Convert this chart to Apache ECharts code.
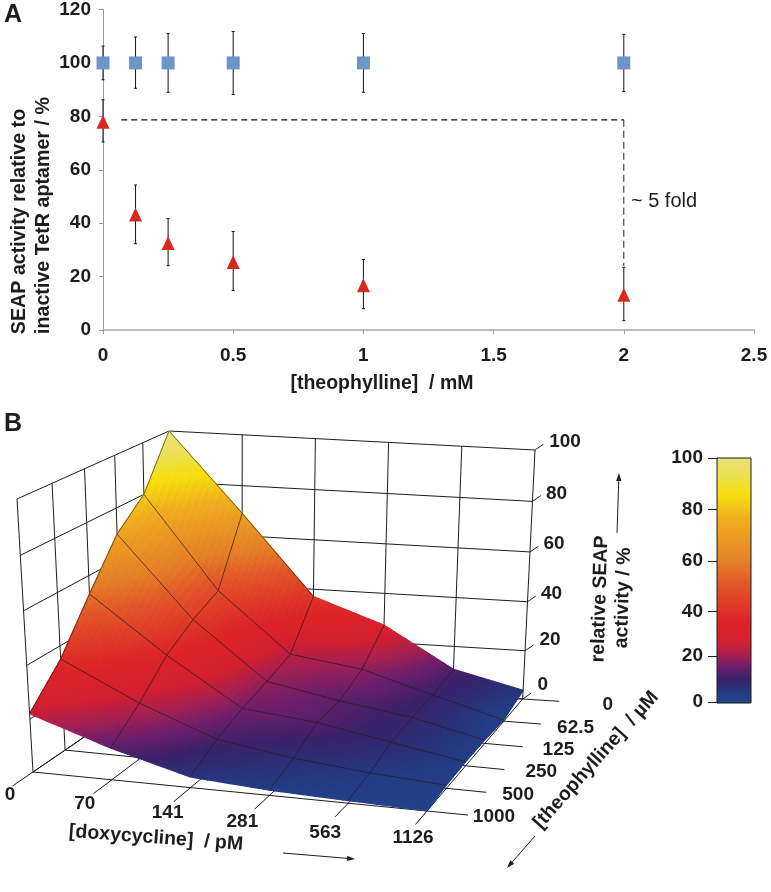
<!DOCTYPE html>
<html><head><meta charset="utf-8">
<style>html,body{margin:0;padding:0;background:#fff}#c{width:771px;height:892px}</style>
<script src="https://cdn.jsdelivr.net/npm/echarts@6/dist/echarts.min.js"></script>
</head><body><div id="c"></div>
<script>
// ---------- Panel A data ----------
const theoMM = [0, 0.125, 0.25, 0.5, 1, 2];
const activeMean = [100, 100, 100, 100, 100, 100];
const activeHigh = [106.3, 109.7, 111, 111.8, 111, 110.7];
const activeLow = [93.7, 90.5, 89, 88.2, 89, 89.3];
const aptamerMean = [78, 43.2, 32.6, 25.5, 16.8, 13.2];
const aptamerHigh = [86.2, 54.3, 41.7, 36.9, 26.4, 23.5];
const aptamerLow = [70.4, 32.3, 24.1, 14.8, 8, 3.5];
const foldLineH = [[0.07, 78.7], [2, 78.7]];
const foldLineV = [[2, 78.7], [2, 24]];

// ---------- Panel B data ----------
const doxyLabels = ['0', '70', '141', '281', '563', '1126'];
const theoLabels = ['0', '62.5', '125', '250', '500', '1000'];
const zTicks = [0, 20, 40, 60, 80, 100];
// rows: theophylline (0 -> 1000), columns: doxycycline (0 -> 1126)
const surfaceTheo0 = [100, 69, 37, 27, 10.5, 3.6];
const surfaceTheo62 = [80, 44, 20.5, 16.6, 8.4, 0.6];
const surfaceTheo125 = [70, 39, 17, 11.8, 7.8, 1.5];
const surfaceTheo250 = [53, 32, 14, 11.3, 6.4, 1.7];
const surfaceTheo500 = [35, 21, 10, 5.7, 3, 1.3];
const surfaceTheo1000 = [22, 12, 4, 2, 1, 0.1];
const surface = [surfaceTheo0, surfaceTheo62, surfaceTheo125, surfaceTheo250, surfaceTheo500, surfaceTheo1000];

// colour scale
const colorScaleStops = [0, 5, 10, 15, 20, 25, 33, 40, 48, 57, 75, 85, 92, 100];
const colorScaleHex = ['#1f4a90', '#26377f', '#3a2268', '#6e1f6c', '#a82050', '#d32030', '#dc2428', '#de3a28', '#e2552a', '#e47e28', '#f0ae20', '#f7df0c', '#ece04c', '#e8e27a'];
const colorbarTicks = [0, 20, 40, 60, 80, 100];
const colorbarTickPos = [0.5, 19.2, 37.3, 58, 78.9, 100];

// ---------- projection of the 3D box on the page plane ----------
const FLOOR = {bl: [172, 677], br: [522.7, 699], fl: [33, 772], fr: [427, 811]};
const TOP = {bl: [169, 431], br: [535, 450], fl: [17, 499], fr: [436, 531]};
function bilin(C, u, v) {
  const a = [C.bl[0] + (C.br[0] - C.bl[0]) * u, C.bl[1] + (C.br[1] - C.bl[1]) * u];
  const b = [C.fl[0] + (C.fr[0] - C.fl[0]) * u, C.fl[1] + (C.fr[1] - C.fl[1]) * u];
  return [a[0] + (b[0] - a[0]) * v, a[1] + (b[1] - a[1]) * v];
}
function project(i, j, z) {
  const u = i / 5, v0 = j / 5;
  const k = 0.2 * Math.max(0, 1 - u);
  const v = v0 / (1 + k * (1 - v0));
  const t = z / 100, f = t / (1 + 0.04 * (1 - t));
  const a = bilin(FLOOR, u, v), b = bilin(TOP, u, v);
  return [a[0] + (b[0] - a[0]) * f, a[1] + (b[1] - a[1]) * f];
}
function hex(c) { return [1, 3, 5].map(p => parseInt(c.substr(p, 2), 16)); }
function colorAt(val) {
  const s = colorScaleStops, v = Math.max(0, Math.min(100, val));
  let n = 0;
  while (n < s.length - 2 && v > s[n + 1]) n++;
  const t = (v - s[n]) / (s[n + 1] - s[n]);
  const a = hex(colorScaleHex[n]), b = hex(colorScaleHex[n + 1]);
  return 'rgb(' + a.map((x, q) => Math.round(x + (b[q] - x) * t)).join(',') + ')';
}
function surfaceAt(i, j) {
  const a = Math.min(4, Math.floor(i)), b = Math.min(4, Math.floor(j));
  const p = i - a, q = j - b;
  return (surface[b][a] * (1 - p) + surface[b][a + 1] * p) * (1 - q) + (surface[b + 1][a] * (1 - p) + surface[b + 1][a + 1] * p) * q;
}
const SUB = 14;
const FONT = '"Liberation Sans", Arial, sans-serif';
const INK = '#1d1d1b';

function wallLines(api) {
  const kids = [];
  const seg = (p, q, w) => {
    const a = api.coord(p), b = api.coord(q);
    kids.push({type: 'line', shape: {x1: a[0], y1: a[1], x2: b[0], y2: b[1]}, style: {stroke: INK, lineWidth: w || 1}});
  };
  for (let n = 0; n <= 5; n++) {
    seg(project(n, 0, 0), project(n, 0, 100));      // back wall verticals
    seg(project(0, n, 0), project(0, n, 100));      // left wall verticals
    seg(project(n, 0, 0), project(n, 5.6, 0));      // floor, doxycycline lines + tick
    seg(project(0, n, 0), project(5.52, n, 0));     // floor, theophylline lines + tick
  }
  zTicks.forEach(z => {
    seg(project(0, 5, z), project(0, 0, z));
    seg(project(0, 0, z), project(5, 0, z));
    const e = project(5, 0, z);
    seg(e, [e[0] + 8.3, e[1] - 5.7]);
  });
  return {type: 'group', children: kids};
}
function surfaceCell(params, api) {
  const a = api.value(0), b = api.value(1), kids = [];
  for (let q = 0; q < SUB; q++) for (let p = 0; p < SUB; p++) {
    const i0 = a + p / SUB, i1 = a + (p + 1) / SUB, j0 = b + q / SUB, j1 = b + (q + 1) / SUB;
    const pts = [[i0, j0], [i1, j0], [i1, j1], [i0, j1]].map(n => api.coord(project(n[0], n[1], surfaceAt(n[0], n[1]))));
    const col = colorAt(surfaceAt((i0 + i1) / 2, (j0 + j1) / 2) + 1.5);
    kids.push({type: 'polygon', shape: {points: pts}, style: {fill: col, stroke: col, lineWidth: 1.3, lineJoin: 'round'}});
  }
  return {type: 'group', children: kids};
}
function meshLines(api) {
  const kids = [];
  const path = (fn, w) => {
    const pts = [];
    for (let n = 0; n <= 5; n++) pts.push(api.coord(fn(n)));
    kids.push({type: 'polyline', shape: {points: pts}, style: {stroke: '#2a1a1a', lineWidth: w, fill: 'none'}});
  };
  for (let n = 1; n <= 4; n++) {
    path(t => project(n, t, surface[t][n]), 0.7);
    path(t => project(t, n, surface[n][t]), 0.7);
  }
  path(t => project(0, t, surface[t][0]), 0.6);
  const e = [0, 1, 2].map(t => api.coord(project(t, 0, surface[0][t])));
  kids.push({type: 'polyline', shape: {points: e}, style: {stroke: '#2a1a1a', lineWidth: 0.6, fill: 'none'}});
  return {type: 'group', children: kids};
}
const txt = (x, y, s, o) => Object.assign({type: 'text', x: x, y: y, silent: true, rotation: (o && o.rot) || 0, z: 50,
  style: {text: s, font: ((o && o.weight) || 'bold') + ' ' + ((o && o.size) || 19) + 'px ' + FONT, fill: INK, align: 'center', verticalAlign: 'middle'}});
function tickLabels(api) {
  const kids = [];
  const doxyDx = [-23, -27, -23, -27, -23, -14], doxyDy = [23, 24, 25, 26, 30, 27];
  const theoDx = [85, 72, 74, 76, 72, 67];
  const zDx = [20, 25, 24, 24, 24, 30], zDy = [-14, -11, -8, -8, -8, -8];
  const font = 'bold 19px ' + FONT;
  doxyLabels.forEach((s, n) => {
    const p = api.coord(project(n, 5, 0));
    kids.push({type: 'text', x: p[0] + doxyDx[n], y: p[1] + doxyDy[n], style: {text: s, font: font, fill: INK, align: 'center', verticalAlign: 'middle'}});
  });
  theoLabels.forEach((s, n) => {
    const p = api.coord(project(5, n, 0));
    kids.push({type: 'text', x: p[0] + theoDx[n], y: p[1] + 6, style: {text: s, font: font, fill: INK, align: 'center', verticalAlign: 'middle'}});
  });
  zTicks.forEach((z, n) => {
    const p = api.coord(project(5, 0, z));
    kids.push({type: 'text', x: p[0] + zDx[n], y: p[1] + zDy[n], style: {text: String(z), font: font, fill: INK, align: 'center', verticalAlign: 'middle'}});
  });
  return {type: 'group', children: kids};
}
function arrow(x1, y1, x2, y2) {
  const an = Math.atan2(y2 - y1, x2 - x1), L = 8, W = 2.6;
  const bx = x2 - L * Math.cos(an), by = y2 - L * Math.sin(an);
  return [
    {type: 'line', silent: true, shape: {x1: x1, y1: y1, x2: bx, y2: by}, style: {stroke: INK, lineWidth: 1}},
    {type: 'polygon', silent: true, shape: {points: [[x2, y2], [bx - W * Math.sin(an), by + W * Math.cos(an)], [bx + W * Math.sin(an), by - W * Math.cos(an)]]}, style: {fill: INK}}
  ];
}
function errorBars(high, low) {
  return function (params, api) {
    const x = api.value(0), a = api.coord([x, high[params.dataIndex]]), b = api.coord([x, low[params.dataIndex]]);
    const cap = 1.5, ls = {stroke: '#111', lineWidth: 1};
    return {type: 'group', children: [
      {type: 'line', shape: {x1: a[0], y1: a[1], x2: b[0], y2: b[1]}, style: ls},
      {type: 'line', shape: {x1: a[0] - cap, y1: a[1], x2: a[0] + cap, y2: a[1]}, style: ls},
      {type: 'line', shape: {x1: b[0] - cap, y1: b[1], x2: b[0] + cap, y2: b[1]}, style: ls}
    ]};
  };
}
const cells = [];
for (let b = 0; b < 5; b++) for (let a = 0; a < 5; a++) cells.push([a, b]);

const chart = echarts.init(document.getElementById('c'), null, {renderer: 'canvas'});
const axisText = {color: INK, fontFamily: FONT, fontWeight: 'bold', fontSize: 19};
chart.setOption({
  animation: false,
  backgroundColor: '#fff',
  grid: [
    {left: 103, top: 8, width: 651, height: 322},
    {left: 0, top: 0, width: 771, height: 892},
    {left: 717, top: 458, width: 34, height: 245}
  ],
  xAxis: [
    {gridIndex: 0, type: 'value', min: 0, max: 2.5, interval: 0.5, splitLine: {show: false},
      axisLine: {lineStyle: {color: '#bdbdbd', width: 2}}, axisTick: {length: 4, lineStyle: {color: '#999'}},
      axisLabel: Object.assign({margin: 16}, axisText)},
    {gridIndex: 1, type: 'value', min: 0, max: 771, show: false},
    {gridIndex: 2, type: 'value', min: 0, max: 1, show: false}
  ],
  yAxis: [
    {gridIndex: 0, type: 'value', min: 0, max: 120, interval: 20, splitLine: {show: false},
      axisLine: {show: true, lineStyle: {color: '#999', width: 1}}, axisTick: {show: true, length: 4, lineStyle: {color: '#999'}},
      axisLabel: Object.assign({margin: 12}, axisText)},
    {gridIndex: 1, type: 'value', min: 0, max: 892, inverse: true, show: false},
    {gridIndex: 2, type: 'value', min: 0, max: 100, splitLine: {show: false},
      axisLine: {show: true, lineStyle: {color: INK}},
      axisTick: {show: true, length: 9, inside: false, customValues: colorbarTickPos, lineStyle: {color: INK}},
      axisLabel: Object.assign({margin: 14, customValues: colorbarTickPos,
        formatter: v => String(colorbarTicks[colorbarTickPos.indexOf(v)])}, axisText)}
  ],
  series: [
    {type: 'custom', name: 'active error', xAxisIndex: 0, yAxisIndex: 0, clip: false, silent: true, renderItem: errorBars(activeHigh, activeLow), data: theoMM.map((x, n) => [x, activeMean[n]]), z: 2},
    {type: 'custom', name: 'aptamer error', xAxisIndex: 0, yAxisIndex: 0, clip: false, silent: true, renderItem: errorBars(aptamerHigh, aptamerLow), data: theoMM.map((x, n) => [x, aptamerMean[n]]), z: 2},
    {type: 'line', xAxisIndex: 0, yAxisIndex: 0, data: foldLineH, symbol: 'none', silent: true, lineStyle: {color: '#111', width: 1.3, type: [6, 4]}, z: 2},
    {type: 'line', xAxisIndex: 0, yAxisIndex: 0, data: foldLineV, symbol: 'none', silent: true, lineStyle: {color: '#222', width: 1, type: [7, 4]}, z: 2},
    {type: 'scatter', xAxisIndex: 0, yAxisIndex: 0, clip: false, symbol: 'rect', symbolSize: 13, silent: true, itemStyle: {color: '#6c95c8', opacity: 1}, data: theoMM.map((x, n) => [x, activeMean[n]]), z: 3},
    {type: 'scatter', xAxisIndex: 0, yAxisIndex: 0, clip: false, symbol: 'triangle', symbolSize: [13, 14], silent: true, itemStyle: {color: '#d8281f', opacity: 1}, data: theoMM.map((x, n) => [x, aptamerMean[n]]), z: 3},
    {type: 'custom', name: 'box', xAxisIndex: 1, yAxisIndex: 1, clip: false, silent: true, renderItem: (p, api) => wallLines(api), data: [[0, 0]], z: 2},
    {type: 'custom', name: 'surface', xAxisIndex: 1, yAxisIndex: 1, clip: false, silent: true, renderItem: surfaceCell, data: cells, z: 3},
    {type: 'custom', name: 'mesh', xAxisIndex: 1, yAxisIndex: 1, clip: false, silent: true, renderItem: (p, api) => meshLines(api), data: [[0, 0]], z: 4},
    {type: 'custom', name: 'labels', xAxisIndex: 1, yAxisIndex: 1, clip: false, silent: true, renderItem: (p, api) => tickLabels(api), data: [[0, 0]], z: 5},
    {type: 'custom', name: 'colorbar', xAxisIndex: 2, yAxisIndex: 2, clip: false, silent: true, data: [[0, 0]], z: 3,
      renderItem: (p, api) => {
        const a = api.coord([0, 100]), b = api.coord([1, 0]);
        const grad = new echarts.graphic.LinearGradient(0, 1, 0, 0, colorScaleStops.map((s, n) => ({offset: s / 100, color: colorScaleHex[n]})));
        return {type: 'rect', shape: {x: a[0], y: a[1], width: b[0] - a[0], height: b[1] - a[1]}, style: {fill: grad, stroke: INK, lineWidth: 1}};
      }}
  ],
  graphic: [
    txt(13, 15, 'A', {size: 25}),
    txt(13, 424, 'B', {size: 25}),
    txt(20, 221.5, 'SEAP activity relative to', {rot: Math.PI / 2, size: 19.7}),
    txt(44, 215.5, 'inactive TetR aptamer / %', {rot: Math.PI / 2, size: 19.7}),
    txt(382, 384, '[theophylline]  / mM', {size: 19.5}),
    txt(664, 201, '~ 5 fold', {size: 20, weight: 'normal'}),
    txt(156, 838, '[doxycycline]  / pM', {rot: -0.075, size: 19.5}),
    txt(596, 760, '[theophylline]  / \u00b5M', {rot: 0.84, size: 19.5}),
    txt(600, 599, 'relative SEAP', {rot: 1.54, size: 19.5}),
    txt(623, 598, 'activity / %', {rot: 1.54, size: 19.5})
  ].concat(arrow(283, 853, 355, 859), arrow(535, 836, 507, 868), arrow(617, 533, 619, 473))
});
</script></body></html>
